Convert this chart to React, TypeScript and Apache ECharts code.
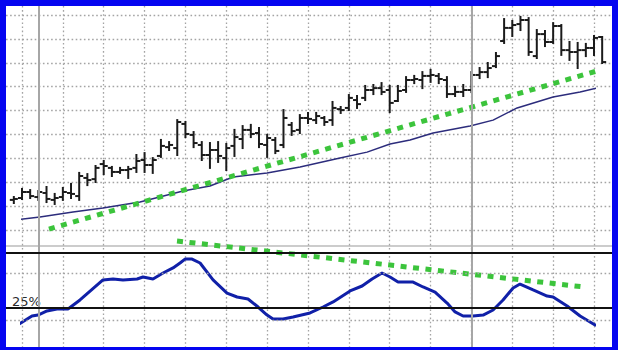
import React, { useEffect, useRef } from "react";
import * as echarts from "echarts";

// ---- Price bars (index -1 .. 71) ----
const barStart = -1;
const openP = [1.26,1.34,1.59,1.38,1.55,1.26,1.38,1.55,1.42,2.18,2.13,2.76,2.60,2.43,2.51,2.60,2.93,2.72,3.10,3.47,3.43,4.44,3.98,3.56,3.14,3.35,3.01,3.52,3.81,4.19,4.06,3.56,3.77,3.56,4.40,4.19,4.69,4.60,4.69,4.60,5.06,5.11,5.44,5.53,5.86,5.94,5.86,5.40,5.86,6.28,6.28,6.45,6.45,6.28,5.69,5.78,5.86,6.49,6.61,6.86,7.91,8.46,8.62,8.79,7.28,8.20,7.87,8.54,7.53,7.45,7.53,7.62,8.08];
const highP = [1.38,1.72,1.67,1.63,1.80,1.51,1.76,1.93,2.39,2.34,2.68,2.89,2.64,2.60,2.64,3.14,3.22,3.01,3.77,3.68,4.60,4.52,4.10,3.68,3.64,3.68,3.60,4.19,4.35,4.40,4.27,3.98,3.85,5.02,4.48,4.81,4.90,4.90,4.73,5.36,5.15,5.65,5.61,6.03,6.07,6.15,6.03,6.03,6.40,6.45,6.61,6.70,6.53,6.40,5.99,6.07,6.61,6.78,6.99,7.41,8.83,8.75,8.92,8.87,8.37,8.33,8.66,8.58,7.87,7.83,7.79,8.12,8.08];
const lowP = [1.13,1.30,1.34,1.26,1.17,1.09,1.26,1.34,1.26,1.88,2.01,2.34,2.26,2.39,2.18,2.43,2.43,2.39,3.06,3.35,3.14,3.89,3.47,2.93,2.60,2.85,2.51,3.10,3.43,3.89,3.47,3.06,3.22,3.47,3.98,4.06,4.48,4.48,4.40,4.40,4.90,5.02,5.11,5.44,5.69,5.69,4.94,5.40,5.78,6.15,5.94,6.20,6.15,5.57,5.61,5.61,5.78,6.36,6.40,6.82,7.83,8.12,8.37,7.33,7.20,7.70,7.83,7.33,7.12,6.78,7.28,7.33,6.99];
const closeP = [1.30,1.59,1.42,1.59,1.30,1.34,1.59,1.51,2.26,2.09,2.60,2.68,2.43,2.51,2.55,2.89,2.72,2.93,3.52,3.56,4.52,4.02,3.64,3.14,3.35,3.10,3.43,3.89,4.19,4.02,3.60,3.85,3.31,4.69,4.14,4.69,4.65,4.77,4.52,5.11,5.02,5.53,5.27,5.86,5.94,5.78,5.32,5.82,6.28,6.32,6.45,6.49,6.32,5.69,5.78,5.86,6.49,6.61,6.78,7.28,8.46,8.58,8.79,7.45,8.20,7.87,8.54,7.53,7.45,7.53,7.62,8.04,7.03];

// ---- Moving average ----
const maX = [-1.84,2.2,6.24,9.91,14.44,19.71,23.0,25.83,29.99,34.03,38.92,42.23,45.04,47.49,50.31,54.83,57.65,60.59,64.99,68.3,70.99];
const maY = [0.38,0.54,0.75,0.92,1.17,1.63,1.84,2.22,2.39,2.64,3.01,3.26,3.6,3.77,4.06,4.35,4.6,5.11,5.57,5.78,5.99];

// ---- Trend lines ----
const trendTopX = [3.3, 71.2];
const trendTopY = [0.04, 6.74];
const trendLowX = [18.97, 68.8];
const trendLowY = [85.9, 44.1];

// ---- Oscillator (%) ----
const oscX = [-1.84,-1.1,1.22,1.96,3.06,4.28,5.63,7.1,9.91,11.14,12.36,14.08,14.81,16.03,17.26,18.48,19.34,19.95,20.81,21.79,23.38,25.09,26.32,27.66,28.89,29.99,30.72,31.95,33.17,35.25,36.84,38.07,40.15,41.62,42.84,44.06,45.04,46.02,47.86,49.08,50.55,52.02,53.0,53.98,55.2,56.43,57.65,58.87,60.1,60.95,62.55,64.26,64.99,66.71,68.3,70.13,70.99];
const oscY = [5.0,6.8,17.7,18.6,22.3,24.1,24.1,32.3,50.5,51.4,50.5,51.4,53.2,51.4,56.8,61.4,65.9,69.5,69.5,65.9,50.5,38.6,35.0,33.2,25.9,18.6,15.0,15.0,16.8,20.5,25.9,30.5,40.5,45.0,51.4,56.8,53.2,48.6,48.6,44.1,39.5,29.5,21.4,17.7,17.7,18.6,23.2,32.3,43.2,46.8,41.4,35.9,35.0,26.8,17.7,9.5,9.5];

const oscLevels = [75, 25];
const oscDotted = [57, 14];
const sessionBreaks = [2, 55];

const dotted = { color: "#a4a4a4", width: 1.3, type: [1.6, 2.5] as any };

export default function App() {
  const ref = useRef<HTMLDivElement>(null);
  useEffect(() => {
    if (!ref.current) return;
    const chart = echarts.init(ref.current, undefined, { renderer: "svg" });
    const bars = openP.map((o, k) => [barStart + k, o, highP[k], lowP[k], closeP[k]]);
    const hidden = { show: false };
    const option: any = {
      animation: false,
      backgroundColor: "transparent",
      grid: [
        { left: 22, right: 24, top: 6, bottom: 3 },
        { left: 6, right: 6, top: 15, height: 215 },
        { left: 22, right: 24, top: 15, height: 215 },
        { left: 6, right: 6, top: 247.5, height: 99 },
        { left: 22, right: 24, top: 247.5, height: 99 },
      ],
      xAxis: [
        { gridIndex: 0, type: "value", min: 0, max: 70, interval: 5, axisLine: hidden, axisTick: hidden, axisLabel: hidden, splitLine: { show: true, lineStyle: dotted } },
        { gridIndex: 1, type: "value", min: 0, max: 1, show: false },
        { gridIndex: 2, type: "value", min: 0, max: 70, show: false },
        { gridIndex: 3, type: "value", min: 0, max: 1, show: false },
        { gridIndex: 4, type: "value", min: 0, max: 70, show: false },
      ],
      yAxis: [
        { gridIndex: 0, type: "value", min: 0, max: 1, show: false },
        { gridIndex: 1, type: "value", min: 0, max: 9, interval: 1, axisLine: hidden, axisTick: hidden, axisLabel: hidden, splitLine: { show: true, lineStyle: dotted } },
        { gridIndex: 2, type: "value", min: 0, max: 9, show: false },
        { gridIndex: 3, type: "value", min: -10, max: 80, show: false },
        { gridIndex: 4, type: "value", min: -10, max: 80, show: false },
      ],
      graphic: [
        { type: "rect", left: 6, top: 245, shape: { width: 606, height: 2 }, style: { fill: "#cccccc" } },
        { type: "text", left: 12, top: 295, style: { text: "25%", fill: "#2a2a2a", font: "13px 'DejaVu Sans', Verdana, sans-serif" } },
      ],
      series: [
        {
          type: "line", xAxisIndex: 0, yAxisIndex: 0, data: [], silent: true,
          markLine: { symbol: "none", silent: true, label: { show: false }, lineStyle: { color: "#a6a6a6", width: 2, type: "solid" }, data: sessionBreaks.map((v) => ({ xAxis: v })) },
        },
        {
          type: "line", xAxisIndex: 3, yAxisIndex: 3, data: [], silent: true,
          markLine: {
            symbol: "none", silent: true, label: { show: false },
            data: [
              ...oscLevels.map((v) => ({ yAxis: v, lineStyle: { color: "#111", width: 2, type: "solid" } })),
              ...oscDotted.map((v) => ({ yAxis: v, lineStyle: dotted })),
            ],
          },
        },
        {
          type: "line", xAxisIndex: 2, yAxisIndex: 2, clip: false, symbol: "none",
          data: maX.map((x, k) => [x, maY[k]]),
          lineStyle: { color: "#2c2c7c", width: 1.5 },
        },
        {
          type: "custom", xAxisIndex: 2, yAxisIndex: 2, clip: false,
          data: bars,
          encode: { x: 0, y: [1, 2, 3, 4] },
          renderItem: (params: any, api: any) => {
            const x = api.value(0);
            const pH = api.coord([x, api.value(2)]);
            const pL = api.coord([x, api.value(3)]);
            const pO = api.coord([x, api.value(1)]);
            const pC = api.coord([x, api.value(4)]);
            const st = { stroke: "#1b1b1b", lineWidth: 2 };
            return {
              type: "group",
              children: [
                { type: "line", shape: { x1: pH[0], y1: pH[1] - 1, x2: pL[0], y2: pL[1] + 1 }, style: st },
                { type: "line", shape: { x1: pO[0] - 4, y1: pO[1], x2: pO[0], y2: pO[1] }, style: st },
                { type: "line", shape: { x1: pC[0], y1: pC[1], x2: pC[0] + 4, y2: pC[1] }, style: st },
              ],
            };
          },
        },
        {
          type: "line", xAxisIndex: 2, yAxisIndex: 2, clip: false, symbol: "none",
          data: trendTopX.map((x, k) => [x, trendTopY[k]]),
          lineStyle: { color: "#3cc43c", width: 5, type: [6, 6.5] },
        },
        {
          type: "line", xAxisIndex: 4, yAxisIndex: 4, clip: false, symbol: "none",
          data: oscX.map((x, k) => [x, oscY[k]]),
          lineStyle: { color: "#1020a8", width: 3 },
        },
        {
          type: "line", xAxisIndex: 4, yAxisIndex: 4, clip: false, symbol: "none",
          data: trendLowX.map((x, k) => [x, trendLowY[k]]),
          lineStyle: { color: "#3cc43c", width: 5, type: [6, 6.5] },
        },
      ],
    };
    chart.setOption(option);
    return () => chart.dispose();
  }, []);
  return (
    <div style={{ position: "fixed", left: 0, top: 0, width: 618, height: 350, background: "#0505f0" }}>
      <div style={{ position: "absolute", left: 6, top: 6, width: 606, height: 341, background: "#ffffff" }} />
      <div ref={ref} style={{ position: "absolute", left: 0, top: 0, width: 618, height: 350 }} />
    </div>
  );
}
